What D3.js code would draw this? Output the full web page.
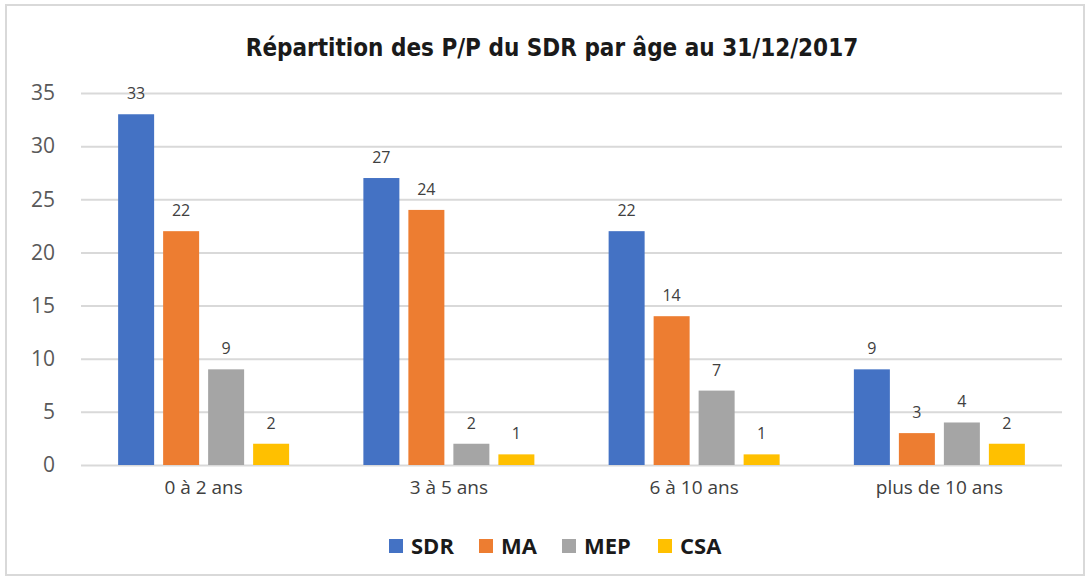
<!DOCTYPE html>
<html>
<head>
<meta charset="utf-8">
<style>
    body { margin: 0; background: #fff; }
    .grid line { stroke: #d9d9d9; stroke-width: 2; }
    .grid path { display: none; }
    .yaxis text { fill: #595959; font-size: 21px; font-family: "Open Sans", sans-serif; }
    .xaxis text { fill: #404040; font-size: 19px; font-family: "Open Sans", sans-serif; }
    .label { fill: #404040; font-size: 16px; font-family: "Open Sans", sans-serif; }
    .title { fill: #1a1a1a; font-size: 24px; font-weight: bold; font-family: "DejaVu Sans Condensed", "Liberation Sans", sans-serif; }
    .legend text { fill: #1a1a1a; font-size: 22px; font-weight: bold; font-family: "Open Sans", sans-serif; }
</style>
</head>
<body>
<svg width="1089" height="580"></svg>
<script src="https://cdn.jsdelivr.net/npm/d3@7"></script>
<script>

var categories = ["0 à 2 ans", "3 à 5 ans", "6 à 10 ans", "plus de 10 ans"];
var series = ["SDR", "MA", "MEP", "CSA"];
var colors = ["#4472c4", "#ed7d31", "#a5a5a5", "#ffc000"];
var sdr = [33, 27, 22, 9];
var ma = [22, 24, 14, 3];
var mep = [9, 2, 7, 4];
var csa = [2, 1, 1, 2];
var yTicks = [0, 5, 10, 15, 20, 25, 30, 35];
var title = "Répartition des P/P du SDR par âge au 31/12/2017";

var values = [sdr, ma, mep, csa];
var data = [];
series.forEach(function(s, i) {
    categories.forEach(function(c, j) {
        data.push({series: s, cat: c, value: values[i][j], color: colors[i]});
    });
});

var svg = d3.select("svg");

// chart frame
svg.append("rect")
    .attr("x", 6).attr("y", 5)
    .attr("width", 1078).attr("height", 570)
    .attr("fill", "#fff")
    .attr("stroke", "#d9d9d9")
    .attr("stroke-width", 2);

var plotLeft = 81, plotRight = 1062, plotTop = 93, plotBottom = 465;

var x0 = d3.scaleBand().domain(categories).range([plotLeft, plotRight]);
var x1 = d3.scaleBand().domain(series).range([-85.5, 85.5]).paddingInner(0.2);
var y = d3.scaleLinear().domain([0, 35]).range([plotBottom, plotTop]);

svg.append("g")
    .attr("class", "grid")
    .attr("transform", "translate(" + plotLeft + ",0)")
    .call(d3.axisLeft(y).tickValues(yTicks).tickSize(-(plotRight - plotLeft)).tickFormat(""));

svg.append("g")
    .attr("class", "yaxis")
    .attr("transform", "translate(" + plotLeft + ",0)")
    .call(d3.axisLeft(y).tickValues(yTicks).tickSize(0).tickPadding(26))
    .call(function(g) { g.select(".domain").remove(); });

svg.append("g")
    .attr("class", "xaxis")
    .attr("transform", "translate(0," + plotBottom + ")")
    .call(d3.axisBottom(x0).tickSize(0).tickPadding(16))
    .call(function(g) { g.select(".domain").remove(); });

svg.append("g").selectAll("rect")
    .data(data)
    .enter().append("rect")
    .attr("x", function(d) { return x0(d.cat) + x0.bandwidth() / 2 + x1(d.series); })
    .attr("y", function(d) { return y(d.value); })
    .attr("width", x1.bandwidth())
    .attr("height", function(d) { return plotBottom - y(d.value); })
    .attr("fill", function(d) { return d.color; });

svg.append("g").selectAll("text")
    .data(data)
    .enter().append("text")
    .attr("class", "label")
    .attr("text-anchor", "middle")
    .attr("x", function(d) { return x0(d.cat) + x0.bandwidth() / 2 + x1(d.series) + x1.bandwidth() / 2; })
    .attr("y", function(d) { return y(d.value) - 15; })
    .text(function(d) { return d.value; });

svg.append("text")
    .attr("class", "title")
    .attr("x", 552).attr("y", 56)
    .attr("text-anchor", "middle")
    .text(title);

var legendX = [389, 479, 562, 658];
var legend = svg.append("g").attr("class", "legend")
    .selectAll("g")
    .data(series)
    .enter().append("g")
    .attr("transform", function(d, i) { return "translate(" + legendX[i] + ",539)"; });

legend.append("rect")
    .attr("width", 14).attr("height", 14)
    .attr("fill", function(d, i) { return colors[i]; });

legend.append("text")
    .attr("x", 22).attr("y", 15)
    .text(function(d) { return d; });

</script>
</body>
</html>
